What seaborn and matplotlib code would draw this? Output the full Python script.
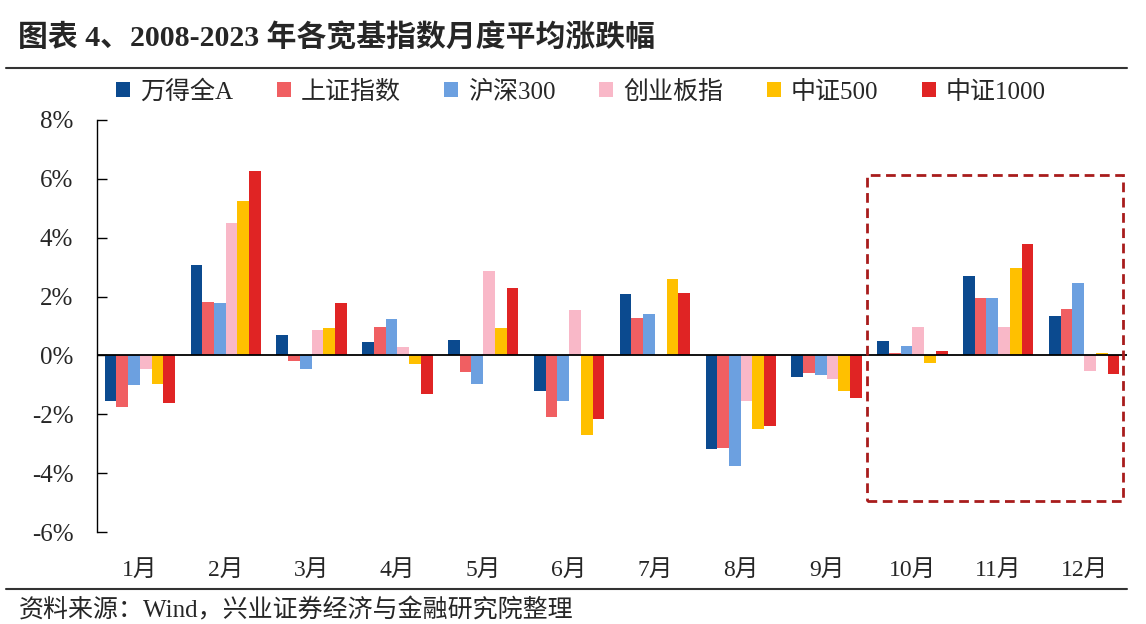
import pandas as pd
import matplotlib.pyplot as plt
import seaborn as sns
from matplotlib.patches import Rectangle
from matplotlib.lines import Line2D

# data (%)
months = ["1月", "2月", "3月", "4月", "5月", "6月", "7月", "8月", "9月", "10月", "11月", "12月"]
wind_a = [-1.55, 3.08, 0.71, 0.45, 0.54, -1.21, 2.08, -3.19, -0.72, 0.50, 2.69, 1.33]
sh_index = [-1.75, 1.81, -0.19, 0.98, -0.56, -2.09, 1.28, -3.14, -0.60, 0.08, 1.95, 1.59]
hs300 = [-1.02, 1.77, -0.45, 1.24, -0.98, -1.55, 1.41, -3.75, -0.68, 0.32, 1.95, 2.46]
cyb = [-0.45, 4.49, 0.85, 0.28, 2.86, 1.55, -0.03, -1.56, -0.80, 0.98, 0.98, -0.54]
zz500 = [-0.98, 5.25, 0.94, -0.28, 0.94, -2.69, 2.60, -2.49, -1.21, -0.24, 2.96, 0.08]
zz1000 = [-1.60, 6.25, 1.77, -1.30, 2.29, -2.15, 2.12, -2.40, -1.46, 0.15, 3.79, -0.64]

series_names = ["万得全A", "上证指数", "沪深300", "创业板指", "中证500", "中证1000"]
colors = ["#0B4A8F", "#F05F62", "#6CA0E0", "#F9B8C8", "#FFC000", "#E02424"]

rows = []
for name, vals in zip(series_names, [wind_a, sh_index, hs300, cyb, zz500, zz1000]):
    for m, v in zip(months, vals):
        rows.append({"month": m, "index": name, "value": v})
df = pd.DataFrame(rows)

sns.set_style("white")
plt.rcParams["font.family"] = ["Liberation Serif", "Noto Sans CJK SC"]
plt.rcParams["axes.unicode_minus"] = False

fig = plt.figure(figsize=(11.46, 6.24), dpi=100)
ax = fig.add_axes([0.0846, 0.1474, 0.8988, 0.6603])

sns.barplot(
    data=df, x="month", y="value", hue="index",
    order=months, hue_order=series_names, palette=colors, saturation=1,
    errorbar=None, width=0.82, gap=0, linewidth=0, ax=ax
)

ax.axhline(0, color="black", lw=1.3, zorder=3)
ax.set_ylim(-6, 8)
ax.set_xlim(-0.5, 11.5)
ax.set_yticks(range(-6, 9, 2))
ax.set_yticklabels([f"{v}%" for v in range(-6, 9, 2)])
ax.tick_params(axis="y", left=True, direction="in", length=7, width=1,
               color="black", pad=17, labelsize=18)
ax.tick_params(axis="x", bottom=False, length=0, pad=20, labelsize=17)
ax.set_xlabel("")
ax.set_ylabel("")
for s in ["top", "right", "bottom"]:
    ax.spines[s].set_visible(False)
ax.spines["left"].set_color("black")
ax.spines["left"].set_linewidth(1)

# highlight box for Oct-Dec
ax.add_patch(Rectangle((8.47, -4.95), 2.98, 11.09, fill=False,
                       edgecolor="#A81C1C", lw=2, ls=(0, (3.5, 2)), zorder=4,
                       clip_on=False))

ax.legend(loc="center", bbox_to_anchor=(0.507, 0.853), bbox_transform=fig.transFigure,
          ncol=6, frameon=False, fontsize=18, handlelength=0.55, handleheight=0.55,
          handletextpad=0.4, columnspacing=1.75)

fig.text(0.016, 0.94, "图表 4、2008-2023 年各宽基指数月度平均涨跌幅",
         fontsize=21.5, fontweight="bold", va="center", ha="left")
fig.add_artist(Line2D([0.005, 0.983], [0.891, 0.891], color="#333333", lw=1.5))
fig.add_artist(Line2D([0.005, 0.983], [0.056, 0.056], color="#333333", lw=1.5))
fig.text(0.016, 0.022, "资料来源：Wind，兴业证券经济与金融研究院整理",
         fontsize=18, va="center", ha="left")

fig.savefig("out.png", dpi=100)
